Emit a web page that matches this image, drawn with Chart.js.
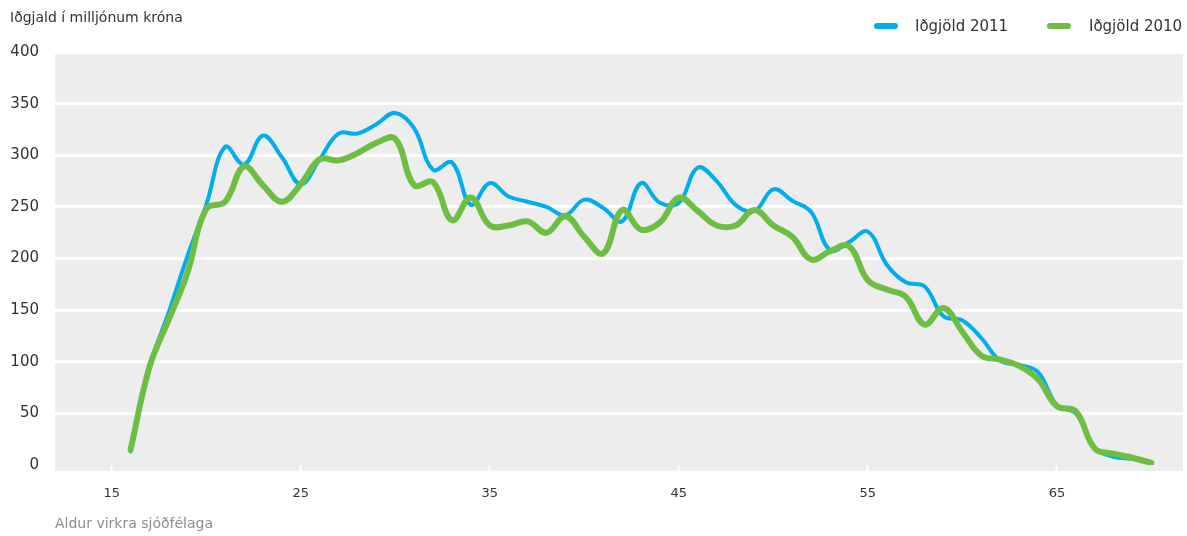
<!DOCTYPE html>
<html>
<head>
<meta charset="utf-8">
<script src="https://cdn.jsdelivr.net/npm/chart.js@4"></script>
<style>
  html, body { margin:0; padding:0; background:#fff; }
  #wrap { position:relative; width:1187px; height:536px; font-family:"DejaVu Sans", sans-serif; }
  #yTitle { position:absolute; left:10px; top:9px; font-size:14px; color:#333; }
  #xTitle { position:absolute; left:55px; top:515px; font-size:14px; color:#8c8c8c; }
  .leg { position:absolute; top:17px; font-size:15px; color:#333; line-height:18px; }
  .leg .sw { position:absolute; top:6px; width:24px; height:6px; border-radius:3px; }
</style>
</head>
<body>
<div id="wrap">
  <canvas id="c" width="1187" height="536"></canvas>
  <div id="yTitle">Iðgjald í milljónum króna</div>
  <div id="xTitle">Aldur virkra sjóðfélaga</div>
  <div id="legend"></div>
</div>
<script>
// ages 16..70
const ages = [16,17,18,19,20,21,22,23,24,25,26,27,28,29,30,
  31,32,33,34,35,36,37,38,39,40,41,42,43,44,45,
  46,47,48,49,50,51,52,53,54,55,56,57,58,59,60,
  61,62,63,64,65,66,67,68,69,70];

const idgjold2011 = [13,95,147,202,252,308,291,319,298,272,296,321,321,330,341,
  326,286,293,252,273,260,255,250,242,257,249,236,273,254,254,
  288,275,252,246,267,256,245,208,216,226,194,177,173,144,140,
  123,101,97,90,58,50,17,8,6,2];

const idgjold2010 = [15,95,140,186,248,255,289,271,255,272,296,295,302,312,316,
  271,274,237,259,232,232,236,225,241,221,205,247,228,235,259,
  246,232,232,247,232,221,199,207,212,179,170,163,136,152,129,
  106,102,96,83,57,52,16,11,7,2];

const xTicks = [15,25,35,45,55,65];
const yTicks = [0,50,100,150,200,250,300,350,400];

const BLUE = "#00aeef";
const GREEN = "#6fbe44";

function toPoints(vals){
  return vals.map((v, i) => ({ x: ages[i], y: v }));
}

// grey plot background, runs a little below zero to hold the tick marks
const bgPlugin = {
  id: "plotBg",
  beforeDraw(chart){
    const a = chart.chartArea;
    const ctx = chart.ctx;
    ctx.save();
    ctx.fillStyle = "#ededed";
    ctx.fillRect(a.left, a.top, a.right - a.left, a.bottom - a.top + 6);
    ctx.restore();
  }
};

const datasets = [
  { label: "Iðgjöld 2011", data: toPoints(idgjold2011), borderColor: BLUE, borderWidth: 4, order: 1 },
  { label: "Iðgjöld 2010", data: toPoints(idgjold2010), borderColor: GREEN, borderWidth: 6, order: 0 }
];
datasets.forEach(d => {
  d.pointRadius = 0;
  d.pointHoverRadius = 0;
  d.tension = 0.4;
  d.fill = false;
  d.borderCapStyle = "round";
  d.borderJoinStyle = "round";
});

new Chart(document.getElementById("c").getContext("2d"), {
  type: "line",
  data: { datasets },
  options: {
    responsive: false,
    animation: false,
    layout: { padding: { top: 52, right: 4, left: 0, bottom: 0 } },
    plugins: { legend: { display: false }, tooltip: { enabled: false } },
    scales: {
      x: {
        type: "linear",
        min: 12,
        max: 71.67,
        afterBuildTicks: s => { s.ticks = xTicks.map(v => ({ value: v })); },
        afterFit: s => { s.height = 71; },
        border: { display: false },
        grid: { drawOnChartArea: false, drawTicks: true, tickLength: 7, tickColor: "#ffffff", tickWidth: 2 },
        ticks: { padding: 14, color: "#333", font: { family: "DejaVu Sans", size: 13 }, maxRotation: 0 }
      },
      y: {
        min: 0,
        max: 400,
        afterBuildTicks: s => { s.ticks = yTicks.map(v => ({ value: v })); },
        afterFit: s => { s.width = 55; },
        border: { display: false },
        grid: {
          drawTicks: false,
          lineWidth: 3,
          color: c => (c.tick && c.tick.value === 0) ? "rgba(0,0,0,0)" : "#ffffff"
        },
        ticks: { padding: 16, color: "#333", font: { family: "DejaVu Sans", size: 15 } }
      }
    }
  },
  plugins: [bgPlugin]
});

// legend
const legendPos = [{ sw: 874, tx: 915 }, { sw: 1047, tx: 1089 }];
const legend = document.getElementById("legend");
datasets.forEach((d, i) => {
  const sw = document.createElement("div");
  sw.className = "leg";
  sw.style.left = legendPos[i].sw + "px";
  sw.innerHTML = '<span class="sw" style="background:' + d.borderColor + '"></span>';
  legend.appendChild(sw);
  const tx = document.createElement("div");
  tx.className = "leg";
  tx.style.left = legendPos[i].tx + "px";
  tx.textContent = d.label;
  legend.appendChild(tx);
});
</script>
</body>
</html>
